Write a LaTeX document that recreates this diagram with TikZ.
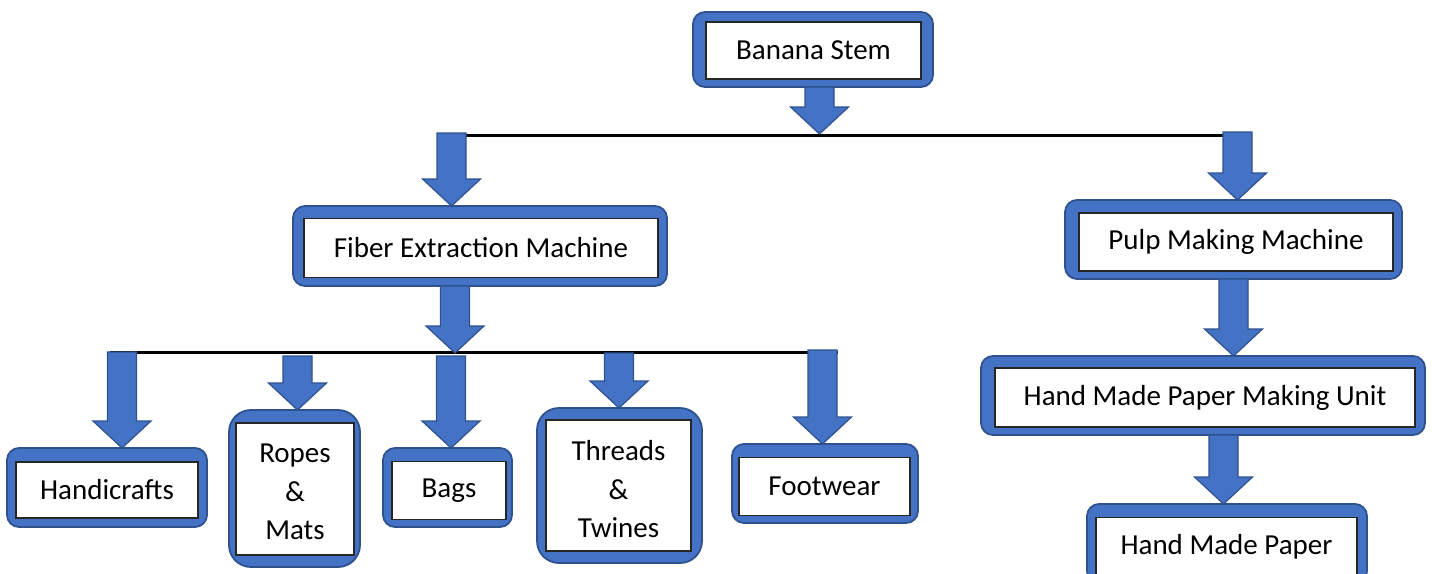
\documentclass[tikz,border=0pt]{standalone}
\usepackage{fontspec}
\setmainfont{Carlito}
\usetikzlibrary{calc}
\definecolor{bfill}{HTML}{4472C4}
\definecolor{bline}{HTML}{2F528F}
\newlength\sw \setlength\sw{14.5pt}
\newlength\hw \setlength\hw{29pt}
\newlength\hl \setlength\hl{27pt}
\newcommand\barrow[3]{%
  \draw[barrowsty] let \p1=(#2), \p2=(#3) in
    (#1pt-\sw,\y1) -- (#1pt+\sw,\y1) -- (#1pt+\sw,\y2+\hl) -- (#1pt+\hw,\y2+\hl)
    -- (#1pt,\y2) -- (#1pt-\hw,\y2+\hl) -- (#1pt-\sw,\y2+\hl) -- cycle;}
\tikzset{
  outerbox/.style={draw=bline, line width=1.8pt, fill=bfill, rounded corners=12pt,
    inner sep=0pt, outer sep=0pt},
  tallbox/.style={outerbox, rounded corners=22pt},
  innerbox/.style={draw=black!85, line width=1.4pt, fill=white, inner sep=0pt,
    outer sep=0pt, align=center, font=\fontsize{29}{38.5}\selectfont},
  txt/.style={inner sep=0pt, align=center, font=\fontsize{29}{38.5}\selectfont},
  barrowsty/.style={draw=bline, line width=1.2pt, fill=bfill, line join=miter},
  hline/.style={draw=black, line width=3pt}
}
\begin{document}
\begin{tikzpicture}[x=1pt,y=-1pt]
\useasboundingbox (0,0) rectangle (1432,573);
\clip (0,0) rectangle (1432,573);
% boxes
\node[outerbox, minimum width=240pt, minimum height=75pt] (bs) at (813,49.5) {};
\node[innerbox, minimum width=215pt, minimum height=57pt] (bsi) at (813.5,50.5) {Banana Stem};
\node[outerbox, minimum width=374pt, minimum height=80pt] (fem) at (480,246) {};
\node[innerbox, minimum width=354pt, minimum height=59pt] (femi) at (481,248) {Fiber Extraction Machine};
\node[outerbox, minimum width=337pt, minimum height=79pt] (pmm) at (1233.5,239.5) {};
\node[innerbox, minimum width=314pt, minimum height=58pt] (pmmi) at (1236,242) {Pulp Making Machine};
\node[outerbox, minimum width=444pt, minimum height=79pt] (hmu) at (1203,395.5) {};
\node[innerbox, minimum width=420pt, minimum height=59pt] (hmui) at (1205,397.5) {Hand Made Paper Making Unit};
\node[outerbox, minimum width=280pt, minimum height=79pt] (hmp) at (1227,543.5) {};
\node[innerbox, minimum width=261pt, minimum height=59pt] (hmpi) at (1226.5,547) {Hand Made Paper};
\node[outerbox, minimum width=200pt, minimum height=79pt] (hc) at (107,487.5) {};
\node[innerbox, minimum width=182pt, minimum height=56pt] (hci) at (107,490) {Handicrafts};
\node[tallbox, minimum width=131pt, minimum height=157pt] (rm) at (294.5,488.5) {};
\node[innerbox, minimum width=118pt, minimum height=132pt] (rmi) at (295,489) {};
\node[txt] (rmt) at (295,492) {Ropes\\\&\\Mats};
\node[outerbox, minimum width=129pt, minimum height=79pt] (bg) at (447.5,487.5) {};
\node[innerbox, minimum width=114pt, minimum height=58pt] (bgi) at (449,490.5) {Bags};
\node[tallbox, minimum width=165pt, minimum height=155pt] (tt) at (619.5,485.5) {};
\node[innerbox, minimum width=145pt, minimum height=131pt] (tti) at (618.5,485.5) {};
\node[txt] (ttt) at (618.5,489.5) {Threads\\\&\\Twines};
\node[outerbox, minimum width=186pt, minimum height=79pt] (fw) at (825,483.5) {};
\node[innerbox, minimum width=171pt, minimum height=58pt] (fwi) at (824.5,486.5) {Footwear};
% junction coordinates
\coordinate (l1a) at (466,135);
\coordinate (l1b) at (1223,135);
\coordinate (t0) at (819.5,134);
\coordinate (s1) at (451.5,133);
\coordinate (s2) at (1237.5,132);
\coordinate (l2a) at (110,352);
\coordinate (l2b) at (838,352);
\coordinate (t3) at (455,353);
\coordinate (s4) at (122,352);
\coordinate (s5) at (297.5,356);
\coordinate (s6) at (451,356);
\coordinate (s7) at (619,353);
\coordinate (s8) at (822.5,350);
% lines
\draw[hline] (l1a) -- (l1b);
\draw[hline] (l2a) -- (l2b);
% block arrows
\barrow{819.5}{bs.south}{t0}
\barrow{451.5}{s1}{fem.north}
\barrow{1237.5}{s2}{pmm.north}
\barrow{455}{fem.south}{t3}
\barrow{122}{s4}{hc.north}
\barrow{297.5}{s5}{rm.north}
\barrow{451}{s6}{bg.north}
\barrow{619}{s7}{tt.north}
\barrow{822.5}{s8}{fw.north}
\barrow{1233.5}{pmm.south}{hmu.north}
\barrow{1223.5}{hmu.south}{hmp.north}
\end{tikzpicture}
\end{document}
